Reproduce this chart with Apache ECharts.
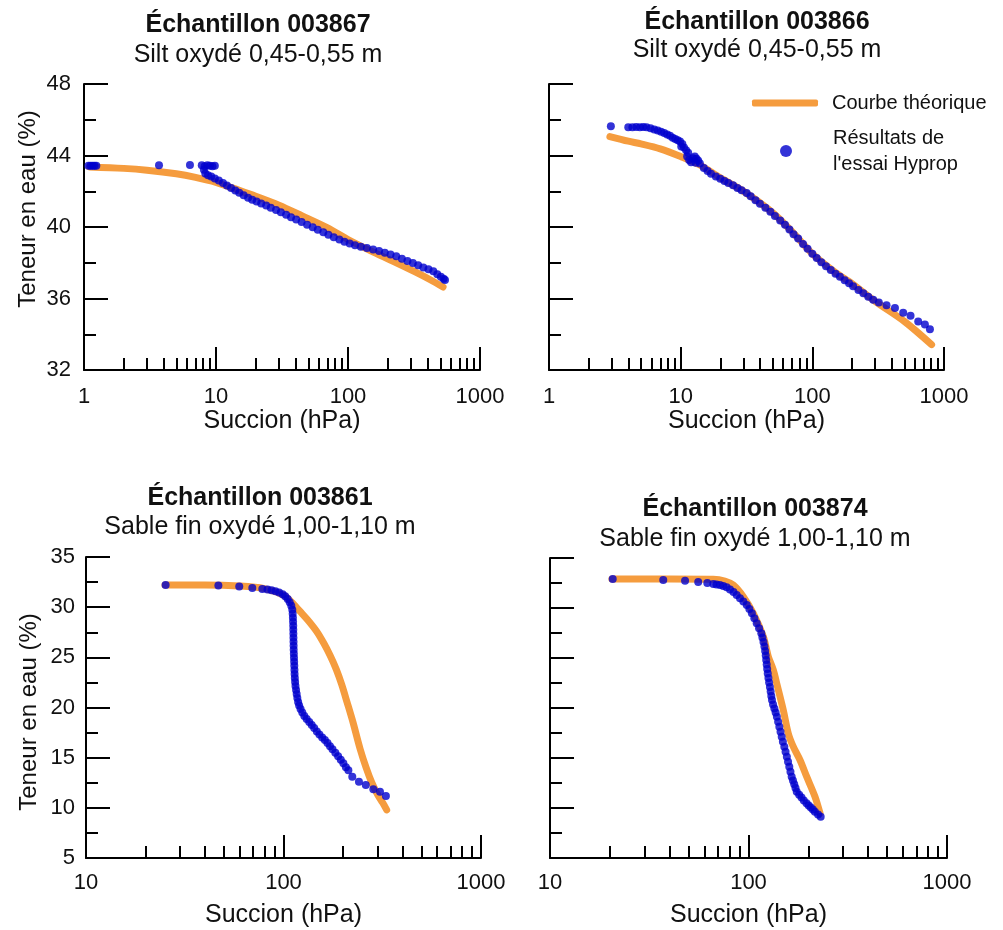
<!DOCTYPE html>
<html><head><meta charset="utf-8">
<script src="https://cdn.jsdelivr.net/npm/echarts@6.0.0/dist/echarts.min.js"></script>
<style>html,body{margin:0;padding:0;background:#fff}#c{width:1003px;height:930px}</style>
</head><body><div id="c"></div>
<script>
// ---------- DATA ----------
const panelTitles = ['Échantillon 003867', 'Échantillon 003866', 'Échantillon 003861', 'Échantillon 003874'];
const panelSubtitles = ['Silt oxydé 0,45-0,55 m', 'Silt oxydé 0,45-0,55 m', 'Sable fin oxydé 1,00-1,10 m', 'Sable fin oxydé 1,00-1,10 m'];
const xAxisTitle = 'Succion (hPa)';
const yAxisTitle = 'Teneur en eau (%)';
const nameTheory = 'Courbe théorique';
const nameHyprop = "Résultats de\nl'essai Hyprop";

const minorTicks1to1000 = [2,3,4,5,6,7,8,9,20,30,40,50,60,70,80,90,200,300,400,500,600,700,800,900];
const minorTicks10to1000 = [20,30,40,50,60,70,80,90,200,300,400,500,600,700,800,900];

// Échantillon 003867
const theo3867 = [[1.1,43.36],[2,43.28],[3,43.18],[5,42.98],[7,42.78],[10,42.5],[15,42.05],[20,41.72],[30,41.22],[45,40.62],[70,39.95],[100,39.3],[150,38.65],[220,38.08],[320,37.5],[420,37.05],[525,36.64]];
const hyprop3867 = [[1.08,43.42],[1.12,43.42],[1.16,43.42],[1.2,43.42],[1.24,43.42],[3.7,43.45],[6.35,43.47],[7.8,43.45],[8.2,43.4],[8.6,43.45],[9.0,43.42],[9.4,43.4],[9.8,43.42],
[8.1,43.2],[8.3,43.0],[8.7,42.9],[9.2,42.82],[9.8,42.72],[10.5,42.6],[11.3,42.46],[12.1,42.32],[13,42.18],[14,42.04],[15,41.92],[16.2,41.78],[17.5,41.64],[18.8,41.52],[20.3,41.42],[22,41.32],[24,41.2],[26,41.08],[28.5,40.95],[31,40.82],[34,40.68],[37,40.55],[40.5,40.42],[44.5,40.28],[49,40.13],[54,39.98],[59,39.84],[65,39.7],[71,39.56],[78,39.42],[86,39.3],[94,39.18],[103,39.08],
[113,38.98],[125,38.9],[139,38.82],[155,38.74],[172,38.66],[190,38.56],[210,38.46],[232,38.36],[256,38.22],[282,38.1],[310,37.98],[340,37.86],[372,37.74],[407,37.63],[443,37.52],[475,37.36],[505,37.22],[530,37.1],[543,37.03]];

// Échantillon 003866
const theo3866 = [[2.9,45.06],[4,44.8],[5,44.65],[7,44.37],[10,43.94],[14,43.47],[20,42.75],[30,42.0],[50,40.8],[70,39.75],[100,38.5],[150,37.45],[200,36.83],[300,35.84],[500,34.72],[805,33.42]];
const hyprop3866 = [[2.95,45.63],[4.0,45.58],[4.3,45.58],[4.6,45.6],[4.9,45.58],[5.2,45.6],[5.5,45.58],[5.9,45.52],[6.3,45.46],[6.7,45.4],[7.1,45.33],[7.5,45.26],[7.9,45.18],[8.3,45.1],[8.7,45.0],[9.1,44.92],[9.5,44.85],[9.9,44.78],[10.3,44.65],[10.1,44.5],[10.6,44.45],[11.0,44.3],[11.4,44.15],[11.2,43.95],[11.6,43.75],[12.0,43.62],[12.4,43.85],[12.8,43.95],[13.2,43.82],[13.6,43.7],[14.0,43.55],[13.0,43.6],
[15,43.3],[16,43.13],[17,42.98],[18.5,42.82],[20,42.7],[21.5,42.57],[23,42.46],[25,42.34],[27,42.18],[29,42.05],[31.7,41.9],[34,41.72],[37,41.5],[40,41.3],[44,41.08],[48,40.85],[52,40.62],[57,40.37],[62,40.12],[67,39.86],[72,39.6],[78,39.35],[85,39.05],[92,38.78],[100,38.5],[108,38.27],[117,38.03],[127,37.8],[138,37.6],[150,37.38],[162,37.22],[176,37.02],[190,36.85],[204,36.68],[224,36.48],[244,36.3],[266,36.1],[290,35.93],
[320,35.78],[366,35.62],[424,35.47],[490,35.2],[557,35.04],[637,34.72],[716,34.54],[782,34.28]];

// Échantillon 003861
const theo3861 = [[25.1,32.2],[40,32.2],[60,32.1],[80,31.85],[100,31.2],[110,30.5],[121,29.6],[133,28.7],[147,27.6],[160,26.4],[172,25.2],[185,23.8],[197,22.3],[210,20.5],[225,18.5],[244,15.9],[262,14.0],[280,12.5],[300,11.3],[318,10.5],[333,9.8]];
const hyprop3861 = [[25.3,32.2],[46.8,32.15],[59.7,32.05],[69.5,31.92],[78.1,31.82],[83,31.75],[87,31.68],[91,31.58],[95,31.45],[99,31.28],[102,31.08],[105,30.82],[107.5,30.5],[109.5,30.15],[110.8,29.75],[111.3,29.35],[111.6,28.95],[111.8,28.55],[112,28.15],[112.1,27.75],[112.2,27.35],[112.3,26.95],[112.4,26.55],[112.5,26.15],[112.6,25.75],[112.8,25.35],[113,24.95],[113.2,24.55],[113.4,24.15],[113.6,23.75],[113.8,23.35],[114.1,22.95],[114.5,22.55],[115,22.15],[115.8,21.75],[116.6,21.35],[117.5,20.95],[118.6,20.55],[120,20.2],[122,19.85],[124.5,19.5],[127.5,19.15],[131,18.85],[135,18.55],[139,18.25],[143,17.95],[147.5,17.62],[152,17.3],[157,17.0],[162,16.75],[167,16.45],[172,16.15],[177,15.85],[183,15.5],[189,15.15],[195,14.8],[201,14.45],[207,14.05],[213,13.75],
[223,13.1],[241,12.6],[261,12.27],[285,11.84],[308,11.6],[330,11.17]];

// Échantillon 003874
const theo3874 = [[20.5,32.9],[40,32.9],[66.5,32.88],[76,32.7],[83.8,32.3],[94.2,31.13],[105.7,29.47],[118.8,27.13],[125.9,25.13],[133.4,23.8],[138.7,22.47],[149.7,19.8],[158.6,17.47],[168.1,16.13],[181.7,14.8],[196.4,13.13],[216.3,11.13],[229.3,9.47]];
const hyprop3874 = [[20.7,32.9],[37.2,32.8],[47.9,32.73],[55.8,32.6],[62,32.5],[66.5,32.4],[69,32.35],[71.8,32.3],[74.6,32.2],[77.6,32.07],[80.7,31.85],[84,31.6],[87.2,31.3],[90.6,30.97],[94.2,30.65],[98,30.3],[101,29.9],[104,29.47],[107,28.97],[110,28.47],[113,27.97],[116,27.47],[117.5,27.05],[119,26.6],[120.3,26.15],[121.3,25.7],[122.1,25.25],[122.8,24.8],[123.5,24.35],[124.2,23.9],[125,23.45],[126,23.0],[127,22.55],[128.2,22.1],[129.3,21.65],[130.3,21.2],[131.3,20.8],[133,20.35],[135,19.95],[137,19.55],[139,19.13],[141,18.63],[143,18.13],[145,17.63],[147,17.13],[149,16.63],[151.5,16.13],[153.7,15.63],[156,15.13],[158.2,14.63],[160.5,14.13],[162.7,13.63],[165,13.13],[167.5,12.75],[170,12.38],[172.5,12.0],[175,11.63],[180,11.33],[185,11.05],[190,10.75],[196,10.47],[201,10.25],[206,10.05],[211,9.84],[216,9.63],[224,9.35],[231,9.13]];

// ---------- LAYOUT / STYLE ----------
const FONT = "'Liberation Sans', Arial, sans-serif";
const ORANGE = '#F59C3E';
const BLUE = '#0000CD';
const INK = '#111';

const panels = [
  {grid:{left:84, top:84, width:396, height:286}, xmin:1, xmax:1000, ymin:32, ymax:48, yint:4, ylab:true, minor:minorTicks1to1000, theo:theo3867, hyp:hyprop3867,
   title:{cx:258, top:13, gap:5}, xLabMargin:16, xNameGap:38, yLabMargin:13, yNameGap:44, yNamePad:[0,0,0,36]},
  {grid:{left:549, top:84, width:395, height:286}, xmin:1, xmax:1000, ymin:32, ymax:48, yint:4, ylab:false, minor:minorTicks1to1000, theo:theo3866, hyp:hyprop3866,
   title:{cx:757, top:10, gap:3}, xLabMargin:16, xNameGap:38, yLabMargin:13, yNameGap:44, yNamePad:0},
  {grid:{left:86, top:557, width:395, height:301}, xmin:10, xmax:1000, ymin:5, ymax:35, yint:5, ylab:true, minor:minorTicks10to1000, theo:theo3861, hyp:hyprop3861,
   title:{cx:260, top:486, gap:4}, xLabMargin:14, xNameGap:45, yLabMargin:11, yNameGap:45, yNamePad:[0,9,0,0]},
  {grid:{left:550, top:558, width:397, height:300}, xmin:10, xmax:1000, ymin:5, ymax:35, yint:5, ylab:false, minor:minorTicks10to1000, theo:theo3874, hyp:hyprop3874,
   title:{cx:755, top:497, gap:5}, xLabMargin:14, xNameGap:45, yLabMargin:11, yNameGap:45, yNamePad:0}
];

const axisLine = {show:true, onZero:false, lineStyle:{color:'#000', width:2}};
const tickLine = {color:'#000', width:2};

const grids = [], xAxes = [], yAxes = [], series = [], titles = [];
panels.forEach((p, i) => {
  grids.push(Object.assign({containLabel:false}, p.grid));
  titles.push({
    text: panelTitles[i], subtext: panelSubtitles[i],
    left: p.title.cx, top: p.title.top, textAlign:'center', padding:0, itemGap:p.title.gap,
    textStyle:{fontSize:25, fontWeight:'bold', color:INK, fontFamily:FONT},
    subtextStyle:{fontSize:25, color:INK, fontFamily:FONT}
  });
  xAxes.push({
    type:'log', logBase:10, gridIndex:i, min:p.xmin, max:p.xmax,
    axisLine: axisLine,
    axisTick:{show:true, inside:true, length:23, lineStyle:tickLine},
    axisLabel:{show:true, fontSize:22, color:INK, fontFamily:FONT, margin:p.xLabMargin, formatter:v => String(Math.round(v))},
    splitLine:{show:false},
    name:xAxisTitle, nameLocation:'middle', nameGap:p.xNameGap,
    nameTextStyle:{fontSize:25, color:INK, fontFamily:FONT}
  });
  yAxes.push({
    type:'value', gridIndex:i, min:p.ymin, max:p.ymax, interval:p.yint,
    axisLine: axisLine,
    axisTick:{show:true, inside:true, length:24, lineStyle:tickLine},
    minorTick:{show:true, splitNumber:2, length:12, lineStyle:tickLine},
    minorSplitLine:{show:false},
    axisLabel:{show:p.ylab, fontSize:22, color:INK, fontFamily:FONT, margin:p.yLabMargin},
    splitLine:{show:false},
    name: p.ylab ? yAxisTitle : '', nameLocation:'middle', nameGap:p.yNameGap,
    nameTextStyle:{fontSize:24, color:INK, fontFamily:FONT, padding:p.yNamePad}
  });
  series.push({
    type:'line', name:nameTheory, xAxisIndex:i, yAxisIndex:i, data:p.theo,
    symbol:'none', showSymbol:false, smooth:0.3,
    lineStyle:{width:7, color:ORANGE, cap:'round', join:'round'},
    itemStyle:{color:ORANGE}, z:2
  });
  series.push({
    type:'scatter', name:nameHyprop, xAxisIndex:i, yAxisIndex:i, data:p.hyp,
    symbol:'circle', symbolSize:8, itemStyle:{color:BLUE}, z:3
  });
});
// minor log ticks (2..9 per decade)
panels.forEach((p, i) => {
  xAxes.push({
    type:'log', logBase:10, gridIndex:i, min:p.xmin, max:p.xmax, position:'bottom',
    axisLine:{show:false, onZero:false},
    axisTick:{show:true, inside:true, length:12, customValues:p.minor, lineStyle:tickLine},
    axisLabel:{show:false},
    splitLine:{show:false}
  });
});

const chart = echarts.init(document.getElementById('c'), null, {renderer:'canvas'});
chart.setOption({
  backgroundColor:'#fff',
  animation:false,
  title: titles,
  grid: grids,
  xAxis: xAxes,
  yAxis: yAxes,
  legend: [
    {data:[nameTheory], left:752, top:93, padding:0, orient:'vertical', itemWidth:66, itemHeight:7, icon:'roundRect',
     selectedMode:false, textStyle:{fontSize:20, color:INK, fontFamily:FONT, padding:[0,0,0,9]}},
    {data:[nameHyprop], left:780, top:125, padding:0, orient:'vertical', itemWidth:66, itemHeight:12, icon:'circle',
     selectedMode:false, textStyle:{fontSize:20, lineHeight:26, color:INK, fontFamily:FONT, padding:[0,0,0,9]}}
  ],
  series: series
});
</script></body></html>
